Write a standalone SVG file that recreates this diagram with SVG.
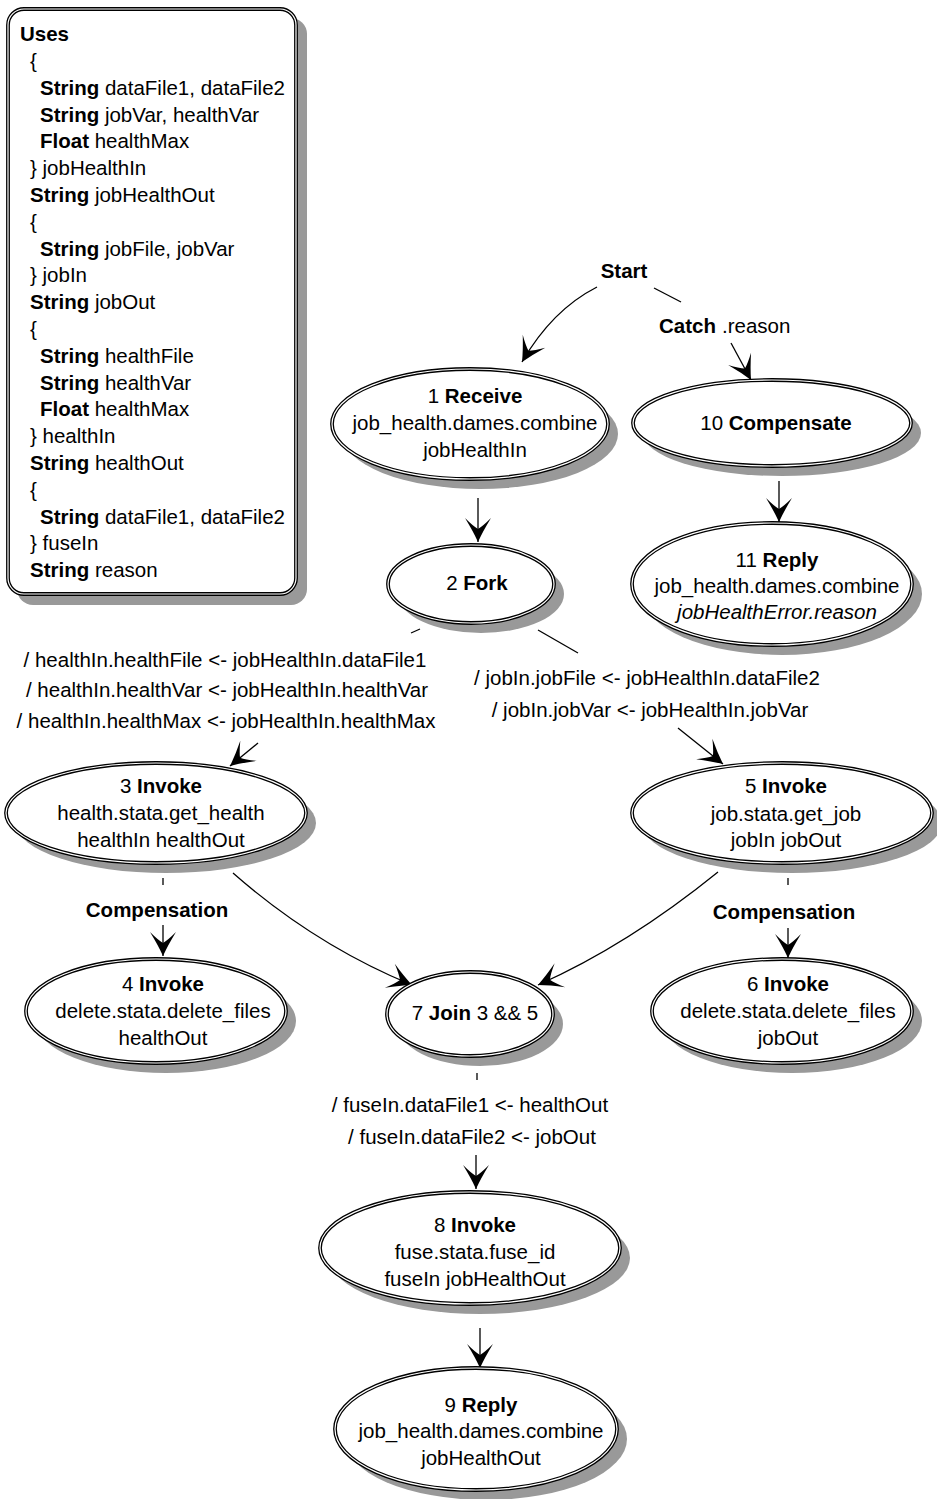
<svg xmlns="http://www.w3.org/2000/svg" width="937" height="1499" viewBox="0 0 937 1499">
<style>
text{font-family:"Liberation Sans",Arial,sans-serif;font-size:20.5px;fill:#000}
.m{text-anchor:middle}
.b{font-weight:bold}
.it{font-style:italic}
.sh{fill:#999}
.o{fill:#fff;stroke:#000;stroke-width:3.8}
.i{fill:none;stroke:#fff;stroke-width:1.2}
.e{fill:none;stroke:#000;stroke-width:1.3}
</style>
<defs>
<marker id="ah" viewBox="-26 -15 28 30" markerWidth="28" markerHeight="30" refX="0" refY="0" orient="auto" markerUnits="userSpaceOnUse">
<path d="M0,0 Q-11,-5 -24,-13 Q-16,-5 -13,0 Q-16,5 -24,13 Q-11,5 0,0 Z" fill="#000"/>
</marker>
</defs>
<rect width="937" height="1499" fill="#fff"/>

<g id="uses">
<rect x="17" y="18" width="290" height="587" rx="16" class="sh"/>
<rect x="8" y="9" width="288" height="585" rx="16" class="o"/>
<rect x="8" y="9" width="288" height="585" rx="16" class="i"/>
<text x="20" y="41" class="b">Uses</text>
<text x="30" y="68">{</text>
<text x="40" y="95"><tspan class="b">String</tspan> dataFile1, dataFile2</text>
<text x="40" y="121.5"><tspan class="b">String</tspan> jobVar, healthVar</text>
<text x="40" y="148.3"><tspan class="b">Float</tspan> healthMax</text>
<text x="30" y="175">} jobHealthIn</text>
<text x="30" y="202"><tspan class="b">String</tspan> jobHealthOut</text>
<text x="30" y="229">{</text>
<text x="40" y="255.6"><tspan class="b">String</tspan> jobFile, jobVar</text>
<text x="30" y="282.4">} jobIn</text>
<text x="30" y="309.2"><tspan class="b">String</tspan> jobOut</text>
<text x="30" y="336">{</text>
<text x="40" y="363"><tspan class="b">String</tspan> healthFile</text>
<text x="40" y="389.6"><tspan class="b">String</tspan> healthVar</text>
<text x="40" y="416.4"><tspan class="b">Float</tspan> healthMax</text>
<text x="30" y="443">} healthIn</text>
<text x="30" y="470"><tspan class="b">String</tspan> healthOut</text>
<text x="30" y="497">{</text>
<text x="40" y="523.6"><tspan class="b">String</tspan> dataFile1, dataFile2</text>
<text x="30" y="550.4">} fuseIn</text>
<text x="30" y="577.2"><tspan class="b">String</tspan> reason</text>
</g>

<g id="start">
<text x="624" y="278" class="m b">Start</text>
</g>

<g id="connectors">
<path class="e" d="M597,287 Q552,310 522,362" marker-end="url(#ah)"/>
<path class="e" d="M654,288 L681,302"/>
<text x="659" y="333" class="b">Catch</text>
<text x="722" y="333">.reason</text>
<path class="e" d="M731,343 L751,380" marker-end="url(#ah)"/>
<path class="e" d="M478,498 L478,542" marker-end="url(#ah)"/>
<path class="e" d="M779,481 L779,522" marker-end="url(#ah)"/>
<path class="e" d="M420,629 L411,633"/>
<text x="225" y="667" class="m">/ healthIn.healthFile &lt;- jobHealthIn.dataFile1</text>
<text x="227" y="697" class="m">/ healthIn.healthVar &lt;- jobHealthIn.healthVar</text>
<text x="226" y="728" class="m">/ healthIn.healthMax &lt;- jobHealthIn.healthMax</text>
<path class="e" d="M258,743 L230,766" marker-end="url(#ah)"/>
<path class="e" d="M538,630 L578,653"/>
<text x="647" y="685" class="m">/ jobIn.jobFile &lt;- jobHealthIn.dataFile2</text>
<text x="650" y="717" class="m">/ jobIn.jobVar &lt;- jobHealthIn.jobVar</text>
<path class="e" d="M678,728 L723,764" marker-end="url(#ah)"/>
<path class="e" d="M163,878 L163,885"/>
<text x="157" y="917" class="m b">Compensation</text>
<path class="e" d="M163,925 L163,956" marker-end="url(#ah)"/>
<path class="e" d="M788,878 L788,885"/>
<text x="784" y="919" class="m b">Compensation</text>
<path class="e" d="M788,928 L788,958" marker-end="url(#ah)"/>
<path class="e" d="M233,873 Q315,945 412,985" marker-end="url(#ah)"/>
<path class="e" d="M718,872 Q628,945 538,985" marker-end="url(#ah)"/>
<path class="e" d="M477,1073 L477,1080"/>
<text x="470" y="1112" class="m">/ fuseIn.dataFile1 &lt;- healthOut</text>
<text x="472" y="1144" class="m">/ fuseIn.dataFile2 &lt;- jobOut</text>
<path class="e" d="M476,1155 L476,1189" marker-end="url(#ah)"/>
<path class="e" d="M480,1328 L480,1368" marker-end="url(#ah)"/>
</g>

<g id="n1">
<ellipse cx="480" cy="434" rx="138" ry="55" class="sh"/>
<ellipse cx="470" cy="424" rx="138" ry="55" class="o"/>
<ellipse cx="470" cy="424" rx="138" ry="55" class="i"/>
<text x="475" y="403" class="m">1 <tspan class="b">Receive</tspan></text>
<text x="475" y="430" class="m">job_health.dames.combine</text>
<text x="475" y="457" class="m">jobHealthIn</text>
</g>

<g id="n10">
<ellipse cx="782" cy="433" rx="139" ry="43" class="sh"/>
<ellipse cx="772" cy="423" rx="139" ry="43" class="o"/>
<ellipse cx="772" cy="423" rx="139" ry="43" class="i"/>
<text x="776" y="430" class="m">10 <tspan class="b">Compensate</tspan></text>
</g>

<g id="n11">
<ellipse cx="782" cy="594" rx="140" ry="61" class="sh"/>
<ellipse cx="772" cy="584" rx="140" ry="61" class="o"/>
<ellipse cx="772" cy="584" rx="140" ry="61" class="i"/>
<text x="777" y="567" class="m">11 <tspan class="b">Reply</tspan></text>
<text x="777" y="593" class="m">job_health.dames.combine</text>
<text x="777" y="619" class="m it">jobHealthError.reason</text>
</g>

<g id="n2">
<ellipse cx="481" cy="594" rx="83" ry="39" class="sh"/>
<ellipse cx="471" cy="584" rx="83" ry="39" class="o"/>
<ellipse cx="471" cy="584" rx="83" ry="39" class="i"/>
<text x="477" y="590" class="m">2 <tspan class="b">Fork</tspan></text>
</g>

<g id="n3">
<ellipse cx="166" cy="823" rx="150" ry="50" class="sh"/>
<ellipse cx="156" cy="813" rx="150" ry="50" class="o"/>
<ellipse cx="156" cy="813" rx="150" ry="50" class="i"/>
<text x="161" y="793" class="m">3 <tspan class="b">Invoke</tspan></text>
<text x="161" y="820" class="m">health.stata.get_health</text>
<text x="161" y="847" class="m">healthIn healthOut</text>
</g>

<g id="n4">
<ellipse cx="166" cy="1021" rx="130" ry="52" class="sh"/>
<ellipse cx="156" cy="1011" rx="130" ry="52" class="o"/>
<ellipse cx="156" cy="1011" rx="130" ry="52" class="i"/>
<text x="163" y="991" class="m">4 <tspan class="b">Invoke</tspan></text>
<text x="163" y="1018" class="m">delete.stata.delete_files</text>
<text x="163" y="1045" class="m">healthOut</text>
</g>

<g id="n5">
<ellipse cx="792" cy="823" rx="150" ry="50" class="sh"/>
<ellipse cx="782" cy="813" rx="150" ry="50" class="o"/>
<ellipse cx="782" cy="813" rx="150" ry="50" class="i"/>
<text x="786" y="793" class="m">5 <tspan class="b">Invoke</tspan></text>
<text x="786" y="821" class="m">job.stata.get_job</text>
<text x="786" y="847" class="m">jobIn jobOut</text>
</g>

<g id="n6">
<ellipse cx="792" cy="1021" rx="130" ry="52" class="sh"/>
<ellipse cx="782" cy="1011" rx="130" ry="52" class="o"/>
<ellipse cx="782" cy="1011" rx="130" ry="52" class="i"/>
<text x="788" y="991" class="m">6 <tspan class="b">Invoke</tspan></text>
<text x="788" y="1018" class="m">delete.stata.delete_files</text>
<text x="788" y="1045" class="m">jobOut</text>
</g>

<g id="n7">
<ellipse cx="480" cy="1024" rx="83" ry="42" class="sh"/>
<ellipse cx="470" cy="1014" rx="83" ry="42" class="o"/>
<ellipse cx="470" cy="1014" rx="83" ry="42" class="i"/>
<text x="475" y="1020" class="m">7 <tspan class="b">Join</tspan> 3 &amp;&amp; 5</text>
</g>

<g id="n8">
<ellipse cx="480" cy="1258" rx="150" ry="56" class="sh"/>
<ellipse cx="470" cy="1248" rx="150" ry="56" class="o"/>
<ellipse cx="470" cy="1248" rx="150" ry="56" class="i"/>
<text x="475" y="1232" class="m">8 <tspan class="b">Invoke</tspan></text>
<text x="475" y="1259" class="m">fuse.stata.fuse_id</text>
<text x="475" y="1286" class="m">fuseIn jobHealthOut</text>
</g>

<g id="n9">
<ellipse cx="486" cy="1439" rx="141" ry="61" class="sh"/>
<ellipse cx="476" cy="1429" rx="141" ry="61" class="o"/>
<ellipse cx="476" cy="1429" rx="141" ry="61" class="i"/>
<text x="481" y="1412" class="m">9 <tspan class="b">Reply</tspan></text>
<text x="481" y="1438" class="m">job_health.dames.combine</text>
<text x="481" y="1465" class="m">jobHealthOut</text>
</g>
</svg>
